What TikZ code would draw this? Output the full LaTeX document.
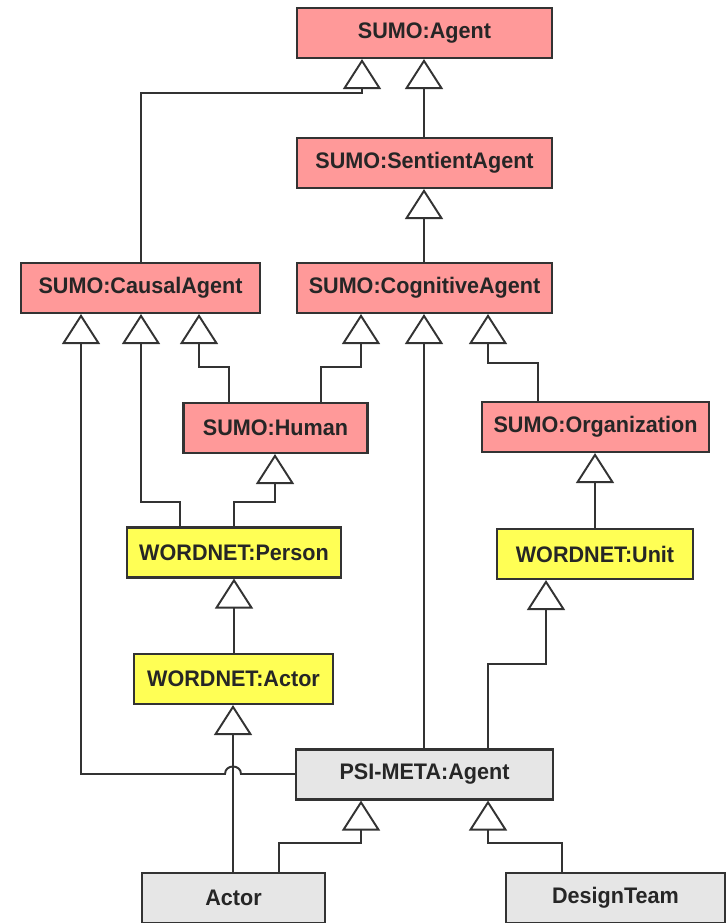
\documentclass[tikz,border=0pt]{standalone}
\usepackage{fontspec}
\setmainfont[FakeStretch=0.96]{Liberation Sans}
\usetikzlibrary{arrows.meta}
\definecolor{sumopink}{HTML}{FF9999}
\definecolor{wnyellow}{HTML}{FFFF55}
\definecolor{psigray}{HTML}{E6E6E6}
\definecolor{edgegray}{HTML}{333333}

\begin{document}
\begin{tikzpicture}[x=0.02cm,y=-0.02cm,
    cls/.style={draw=edgegray,line width=1.2pt,minimum height=1cm,inner sep=0pt,
      font=\bfseries\fontsize{12.8}{14}\selectfont,text=black!85},
    sumo/.style={cls,fill=sumopink},
    wn/.style={cls,fill=wnyellow},
    meta/.style={cls,fill=psigray},
    isa/.style={draw=edgegray,line width=1.1pt,
      -{Triangle[fill=white,length=0.6cm,width=0.76cm]}}]
      \useasboundingbox (0,0) rectangle (726,923);
      \node[sumo,minimum width=5.1cm] (agent) at (424.5,33) {SUMO:Agent};
      \node[sumo,minimum width=5.1cm] (sentient) at (424.5,163) {SUMO:SentientAgent};
      \node[sumo,minimum width=5.1cm] (cognitive) at (424.5,288) {SUMO:CognitiveAgent};
      \node[sumo,minimum width=4.78cm] (causal) at (140.5,288) {SUMO:CausalAgent};
      \node[sumo,minimum width=3.68cm] (human) at (275.5,428) {SUMO:Human};
      \node[sumo,minimum width=4.54cm] (organization) at (595.5,427) {SUMO:Organization};
      \node[wn,minimum width=4.28cm] (person) at (234,552.5) {WORDNET:Person};
      \node[wn,minimum width=3.92cm] (unit) at (595,554) {WORDNET:Unit};
      \node[wn,minimum width=3.98cm] (wnactor) at (233.5,679) {WORDNET:Actor};
      \node[meta,minimum width=5.14cm] (psiagent) at (424.5,774.5) {PSI-META:Agent};
      \node[meta,minimum width=3.66cm] (actor) at (233.5,898) {Actor};
      \node[meta,minimum width=4.38cm] (designteam) at (615.5,898) {DesignTeam};

      \draw[isa] (sentient.north -| 424,0) -- (agent.south -| 424,0);
      \draw[isa] (causal.north -| 141,0) |- (362,93) -- (agent.south -| 362,0);
      \draw[isa] (cognitive.north -| 424,0) -- (sentient.south -| 424,0);
      \draw[isa] (human.north -| 229,0) |- (199,367) -- (causal.south -| 199,0);
      \draw[isa] (human.north -| 321,0) |- (361,367) -- (cognitive.south -| 361,0);
      \draw[isa] (person.north -| 180,0) |- (141,502) -- (causal.south -| 141,0);
      \draw[isa] (person.north -| 234,0) |- (275,502) -- (human.south -| 275,0);
      \draw[isa] (psiagent.west |- 0,774) -- (241,774)
        .. controls (241,764) and (225,764) .. (225,774)
        -- (81,774) -- (causal.south -| 81,0);
      \draw[isa] (psiagent.north -| 424,0) -- (cognitive.south -| 424,0);
      \draw[isa] (organization.north -| 538,0) |- (488,363) -- (cognitive.south -| 488,0);
      \draw[isa] (unit.north -| 595,0) -- (organization.south -| 595,0);
      \draw[isa] (wnactor.north -| 234,0) -- (person.south -| 234,0);
      \draw[isa] (psiagent.north -| 488,0) |- (546,664) -- (unit.south -| 546,0);
      \draw[isa] (actor.north -| 233,0) -- (wnactor.south -| 233,0);
      \draw[isa] (actor.north -| 279,0) |- (361,843) -- (psiagent.south -| 361,0);
      \draw[isa] (designteam.north -| 562,0) |- (488,843) -- (psiagent.south -| 488,0);
\end{tikzpicture}
\end{document}
